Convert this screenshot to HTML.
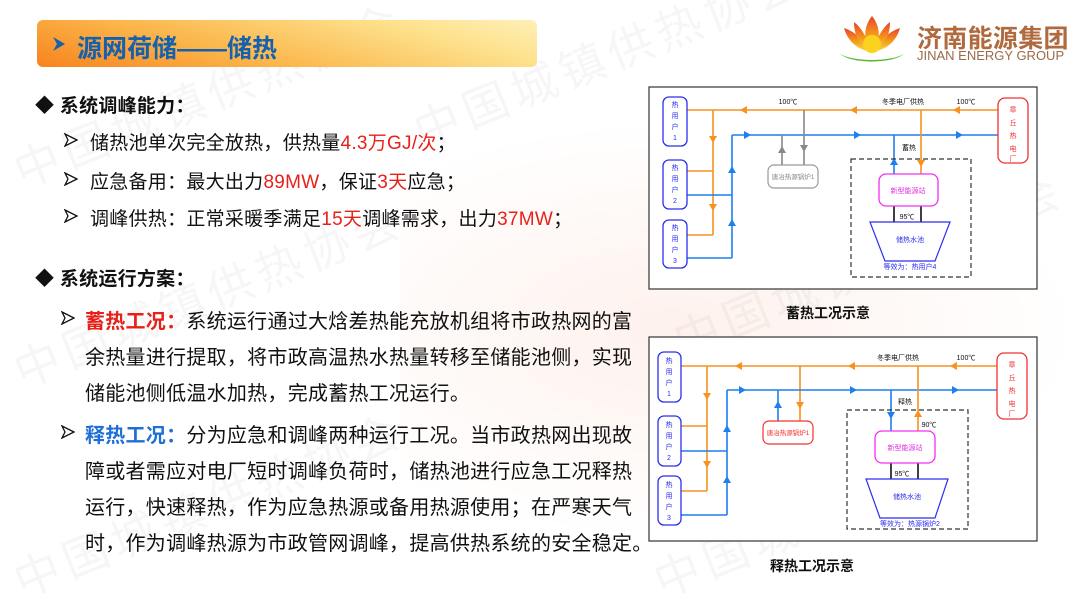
<!DOCTYPE html>
<html><head><meta charset="utf-8"><style>
body{margin:0}
#p{position:relative;width:1080px;height:608px;overflow:hidden;background:#fff;font-family:"Liberation Sans","Noto Sans CJK SC",sans-serif;color:#111}
.t{position:absolute;white-space:nowrap;font-size:20px;letter-spacing:0.27px}
.b{font-weight:bold}
.r{color:#e8201a}
.bl{color:#1f6fd6}
.wm{position:absolute;font-size:46px;color:rgba(0,0,0,0.035);transform:rotate(-22deg);white-space:nowrap;letter-spacing:6px}
.ar{position:absolute}
</style></head><body><div id="p">
<div style="position:absolute;left:400px;top:120px;width:680px;height:420px;background:radial-gradient(ellipse at 40% 50%,rgba(250,200,180,0.25),rgba(255,255,255,0) 70%)"></div>
<div class="wm" style="left:0;top:60px">中国城镇供热协会</div>
<div class="wm" style="left:400px;top:20px">中国城镇供热协会</div>
<div class="wm" style="left:0;top:260px">中国城镇供热协会</div>
<div class="wm" style="left:660px;top:230px">中国城镇供热协会</div>
<div class="wm" style="left:0;top:470px">中国城镇供热协会</div>
<div class="wm" style="left:640px;top:470px">中国城镇供热协会</div>

<div style="position:absolute;left:37px;top:20px;width:500px;height:47px;border-radius:6px;background:linear-gradient(15deg,#f7831e 0%,#fbb449 35%,#fde08a 75%,#fff0b8 100%)"></div>
<svg class="ar" style="left:52px;top:36px" width="14" height="16" viewBox="0 0 14 16"><path d="M1 1L13 8L1 15L5 8Z" fill="#1561ad"/></svg>
<div style="position:absolute;left:77px;top:29px;font-size:25px;font-weight:bold;color:#1561ad;white-space:nowrap">源网荷储——储热</div>

<svg style="position:absolute;left:836px;top:14px" width="72" height="52" viewBox="0 0 72 52">
<defs><linearGradient id="lg" x1="0" y1="0" x2="0" y2="1"><stop offset="0" stop-color="#e8402a"/><stop offset="0.6" stop-color="#f7a21b"/><stop offset="1" stop-color="#fbe04a"/></linearGradient></defs>
<path d="M36 2 C28 12 26 26 36 36 C46 26 44 12 36 2Z" fill="url(#lg)"/>
<path d="M8 14 C12 28 22 36 36 38 C30 28 20 18 8 14Z" fill="url(#lg)"/>
<path d="M64 14 C60 28 50 36 36 38 C42 28 52 18 64 14Z" fill="url(#lg)"/>
<path d="M18 8 C18 24 26 34 36 38 C32 26 26 14 18 8Z" fill="url(#lg)"/>
<path d="M54 8 C54 24 46 34 36 38 C40 26 46 14 54 8Z" fill="url(#lg)"/>
<circle cx="36" cy="30" r="9" fill="#fbd21e"/>
<path d="M4 40 C18 48 54 48 68 40 C56 50 16 50 4 40Z" fill="#5cb531"/>
</svg>
<div style="position:absolute;left:917px;top:19px;font-size:25px;font-weight:bold;color:#b06a3e;letter-spacing:0.3px;white-space:nowrap">济南能源集团</div>
<div style="position:absolute;left:917px;top:48px;font-size:13px;color:#9a6a4a;white-space:nowrap">JINAN ENERGY GROUP</div>

<div class="t b" style="left:35px;top:91px;font-size:19px">◆ 系统调峰能力：</div>
<svg class="ar" style="left:64px;top:133px" width="14" height="14" viewBox="0 0 14 14"><path d="M1 1L13 7L1 13L4 7Z" fill="none" stroke="#111" stroke-width="1.3"/></svg>
<svg class="ar" style="left:64px;top:172px" width="14" height="14" viewBox="0 0 14 14"><path d="M1 1L13 7L1 13L4 7Z" fill="none" stroke="#111" stroke-width="1.3"/></svg>
<svg class="ar" style="left:64px;top:209px" width="14" height="14" viewBox="0 0 14 14"><path d="M1 1L13 7L1 13L4 7Z" fill="none" stroke="#111" stroke-width="1.3"/></svg>
<div class="t" style="left:90px;top:128px;font-size:19px">储热池单次完全放热，供热量<span class="r">4.3万GJ/次</span>；</div>
<div class="t" style="left:90px;top:167px;font-size:19px">应急备用：最大出力<span class="r">89MW</span>，保证<span class="r">3天</span>应急；</div>
<div class="t" style="left:90px;top:204px;font-size:19px">调峰供热：正常采暖季满足<span class="r">15天</span>调峰需求，出力<span class="r">37MW</span>；</div>
<div class="t b" style="left:35px;top:264px;font-size:19px">◆ 系统运行方案：</div>
<svg class="ar" style="left:61px;top:311px" width="14" height="14" viewBox="0 0 14 14"><path d="M1 1L13 7L1 13L4 7Z" fill="none" stroke="#111" stroke-width="1.3"/></svg>
<div class="t" style="left:85px;top:305px"><span class="b r">蓄热工况：</span>系统运行通过大焓差热能充放机组将市政热网的富</div>
<div class="t" style="left:85px;top:341px">余热量进行提取，将市政高温热水热量转移至储能池侧，实现</div>
<div class="t" style="left:85px;top:377px">储能池侧低温水加热，完成蓄热工况运行。</div>
<svg class="ar" style="left:61px;top:425px" width="14" height="14" viewBox="0 0 14 14"><path d="M1 1L13 7L1 13L4 7Z" fill="none" stroke="#111" stroke-width="1.3"/></svg>
<div class="t" style="left:85px;top:419px"><span class="b bl">释热工况：</span>分为应急和调峰两种运行工况。当市政热网出现故</div>
<div class="t" style="left:85px;top:455px">障或者需应对电厂短时调峰负荷时，储热池进行应急工况释热</div>
<div class="t" style="left:85px;top:491px">运行，快速释热，作为应急热源或备用热源使用；在严寒天气</div>
<div class="t" style="left:85px;top:527px">时，作为调峰热源为市政管网调峰，提高供热系统的安全稳定。</div>

<!-- top diagram -->
<svg style="position:absolute;left:648px;top:85px" width="392" height="208" viewBox="0 0 392 208" font-family="Liberation Sans,Noto Sans CJK SC,sans-serif" font-size="7">
<rect x="1" y="2" width="388" height="202" fill="#fff" stroke="#333" stroke-width="1.2"/>
<g fill="none" stroke-width="1.6">
<path d="M39 25H350M65 25V150M39 86H65M39 150H65" stroke="#f7921e"/>
<path d="M84 50H350M84 50V173M39 110H84M39 173H84" stroke="#1e7ff0"/>
<path d="M134 80V50M156 25V80" stroke="#888"/>
<path d="M246 50V89" stroke="#1e7ff0"/><path d="M273 25V89" stroke="#f7921e"/>
<path d="M246 121V137M273 121V137" stroke="#111"/>
</g>
<g fill="#f7921e"><path d="M92 25l7-4v8z"/><path d="M202 25l7-4v8z"/><path d="M305 25l7-4v8z"/><path d="M65 58l-4-7h8z"/><path d="M65 126l-4-7h8z"/><path d="M273 82l-4-7h8z"/></g>
<g fill="#1e7ff0"><path d="M103 50l-7-4v8z"/><path d="M213 50l-7-4v8z"/><path d="M315 50l-7-4v8z"/><path d="M84 81l-4 7h8z"/><path d="M84 134l-4 7h8z"/><path d="M246 73l-4 7h8z"/></g>
<g fill="#888"><path d="M134 61l-4 7h8z"/><path d="M156 67l-4-7h8z"/></g>
<g fill="#fff" stroke="#2a2ef0" stroke-width="1.3"><rect x="15" y="12" width="24" height="49" rx="6"/><rect x="15" y="75" width="24" height="49" rx="6"/><rect x="15" y="135" width="24" height="48" rx="6"/></g>
<g fill="#2a2ef0" text-anchor="middle"><text x="27" y="22">热</text><text x="27" y="33">用</text><text x="27" y="44">户</text><text x="27" y="55">1</text>
<text x="27" y="85">热</text><text x="27" y="96">用</text><text x="27" y="107">户</text><text x="27" y="118">2</text>
<text x="27" y="145">热</text><text x="27" y="156">用</text><text x="27" y="167">户</text><text x="27" y="178">3</text></g>
<rect x="350" y="13" width="30" height="65" rx="7" fill="#fff" stroke="#f03030" stroke-width="1.3"/>
<g fill="#f03030" text-anchor="middle"><text x="365" y="27">章</text><text x="365" y="40">丘</text><text x="365" y="53">热</text><text x="365" y="66">电</text><text x="365" y="76">厂</text></g>
<rect x="120" y="80" width="50" height="23" rx="6" fill="#fff" stroke="#999" stroke-width="1.2"/>
<text x="145" y="94" text-anchor="middle" fill="#888" font-size="6.5">唐冶热源锅炉1</text>
<rect x="203" y="74" width="120" height="118" fill="none" stroke="#333" stroke-width="1.2" stroke-dasharray="5,3"/>
<rect x="231" y="89" width="59" height="32" rx="7" fill="#fff" stroke="#f030f0" stroke-width="1.3"/>
<text x="260" y="108" text-anchor="middle" fill="#e030e0">新型能源站</text>
<path d="M222 137H302L287 176H237Z" fill="#fff" stroke="#2a2ef0" stroke-width="1.2"/>
<text x="262" y="157" text-anchor="middle" fill="#2a2ef0">储热水池</text>
<text x="262" y="184" text-anchor="middle" fill="#2a2ef0">等效为：热用户4</text>
<text x="259" y="134" text-anchor="middle" fill="#111">95℃</text>
<text x="140" y="19" text-anchor="middle" fill="#111">100℃</text>
<text x="255" y="19" text-anchor="middle" fill="#111">冬季电厂供热</text>
<text x="318" y="19" text-anchor="middle" fill="#111">100℃</text>
<text x="261" y="65" text-anchor="middle" fill="#111">蓄热</text>
</svg>
<div class="t b" style="left:786px;top:303px;font-size:14px;letter-spacing:0">蓄热工况示意</div>

<!-- bottom diagram -->
<svg style="position:absolute;left:648px;top:335px" width="392" height="210" viewBox="0 0 392 210" font-family="Liberation Sans,Noto Sans CJK SC,sans-serif" font-size="7">
<rect x="1" y="2" width="388" height="204" fill="#fff" stroke="#333" stroke-width="1.2"/>
<g fill="none" stroke-width="1.6">
<path d="M33 31H349M59 31V156M33 91H59M33 156H59M152 31V86" stroke="#f7921e"/>
<path d="M79 55H349M79 55V180M33 116H79M33 180H79M130 86V55" stroke="#1e7ff0"/>
<path d="M243 55V96" stroke="#1e7ff0"/><path d="M270 31V96" stroke="#f7921e"/>
<path d="M243 128V144M270 128V144" stroke="#111"/>
</g>
<g fill="#f7921e"><path d="M87 31l7-4v8z"/><path d="M200 31l7-4v8z"/><path d="M302 31l7-4v8z"/><path d="M59 65l-4-7h8z"/><path d="M59 133l-4-7h8z"/><path d="M152 74l-4-7h8z"/><path d="M270 75l-4 7h8z"/></g>
<g fill="#1e7ff0"><path d="M98 55l-7-4v8z"/><path d="M209 55l-7-4v8z"/><path d="M311 55l-7-4v8z"/><path d="M79 90l-4 7h8z"/><path d="M79 141l-4 7h8z"/><path d="M130 66l-4 7h8z"/><path d="M243 84l-4-7h8z"/></g>
<g fill="#fff" stroke="#2a2ef0" stroke-width="1.3"><rect x="10" y="17" width="23" height="50" rx="6"/><rect x="10" y="81" width="23" height="50" rx="6"/><rect x="10" y="141" width="23" height="49" rx="6"/></g>
<g fill="#2a2ef0" text-anchor="middle"><text x="21" y="28">热</text><text x="21" y="39">用</text><text x="21" y="50">户</text><text x="21" y="61">1</text>
<text x="21" y="92">热</text><text x="21" y="103">用</text><text x="21" y="114">户</text><text x="21" y="125">2</text>
<text x="21" y="152">热</text><text x="21" y="163">用</text><text x="21" y="174">户</text><text x="21" y="185">3</text></g>
<rect x="349" y="18" width="30" height="66" rx="7" fill="#fff" stroke="#f03030" stroke-width="1.3"/>
<g fill="#f03030" text-anchor="middle"><text x="364" y="32">章</text><text x="364" y="45">丘</text><text x="364" y="58">热</text><text x="364" y="71">电</text><text x="364" y="81">厂</text></g>
<rect x="115" y="86" width="50" height="23" rx="6" fill="#fff" stroke="#f03030" stroke-width="1.2"/>
<text x="140" y="100" text-anchor="middle" fill="#f03030" font-size="6.5">唐冶热源锅炉1</text>
<rect x="199" y="75" width="121" height="119" fill="none" stroke="#333" stroke-width="1.2" stroke-dasharray="5,3"/>
<rect x="227" y="96" width="60" height="32" rx="7" fill="#fff" stroke="#f030f0" stroke-width="1.3"/>
<text x="257" y="115" text-anchor="middle" fill="#e030e0">新型能源站</text>
<path d="M218 144H300L287 183H232Z" fill="#fff" stroke="#2a2ef0" stroke-width="1.2"/>
<text x="259" y="164" text-anchor="middle" fill="#2a2ef0">储热水池</text>
<text x="262" y="191" text-anchor="middle" fill="#2a2ef0">等效为：热源锅炉2</text>
<text x="254" y="141" text-anchor="middle" fill="#111">95℃</text>
<text x="281" y="92" text-anchor="middle" fill="#111">90℃</text>
<text x="250" y="25" text-anchor="middle" fill="#111">冬季电厂供热</text>
<text x="318" y="25" text-anchor="middle" fill="#111">100℃</text>
<text x="257" y="69" text-anchor="middle" fill="#111">释热</text>
</svg>
<div class="t b" style="left:770px;top:556px;font-size:14px;letter-spacing:0">释热工况示意</div>
</div></body></html>
